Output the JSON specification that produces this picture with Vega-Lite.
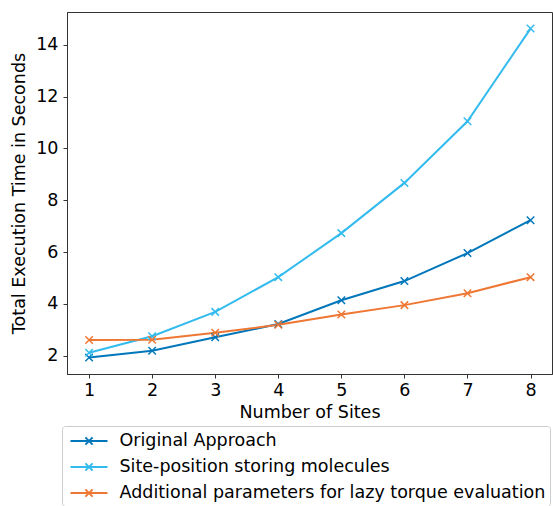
{
  "$schema": "https://vega.github.io/schema/vega-lite/v6.json",
  "autosize": {"type": "none"},
  "width": 485,
  "height": 362,
  "padding": {"left": 67, "top": 12, "right": 1, "bottom": 132},
  "config": {
    "font": "DejaVu Sans",
    "view": {"stroke": "#333333", "strokeWidth": 1},
    "axis": {
      "grid": false,
      "domainColor": "#333333",
      "tickColor": "#333333",
      "tickSize": 4,
      "labelFontSize": 17.5,
      "labelColor": "#000000",
      "titleFontSize": 17.5,
      "titleFontWeight": "normal",
      "titleColor": "#000000",
      "labelPadding": 4
    }
  },
  "data": {
    "values": [
      {"sites": 1, "time": 1.93, "method": "Original Approach"},
      {"sites": 2, "time": 2.19, "method": "Original Approach"},
      {"sites": 3, "time": 2.71, "method": "Original Approach"},
      {"sites": 4, "time": 3.22, "method": "Original Approach"},
      {"sites": 5, "time": 4.14, "method": "Original Approach"},
      {"sites": 6, "time": 4.88, "method": "Original Approach"},
      {"sites": 7, "time": 5.96, "method": "Original Approach"},
      {"sites": 8, "time": 7.23, "method": "Original Approach"},
      {"sites": 1, "time": 2.11, "method": "Site-position storing molecules"},
      {"sites": 2, "time": 2.75, "method": "Site-position storing molecules"},
      {"sites": 3, "time": 3.69, "method": "Site-position storing molecules"},
      {"sites": 4, "time": 5.03, "method": "Site-position storing molecules"},
      {"sites": 5, "time": 6.73, "method": "Site-position storing molecules"},
      {"sites": 6, "time": 8.67, "method": "Site-position storing molecules"},
      {"sites": 7, "time": 11.05, "method": "Site-position storing molecules"},
      {"sites": 8, "time": 14.63, "method": "Site-position storing molecules"},
      {"sites": 1, "time": 2.6, "method": "Additional parameters for lazy torque evaluation"},
      {"sites": 2, "time": 2.61, "method": "Additional parameters for lazy torque evaluation"},
      {"sites": 3, "time": 2.88, "method": "Additional parameters for lazy torque evaluation"},
      {"sites": 4, "time": 3.19, "method": "Additional parameters for lazy torque evaluation"},
      {"sites": 5, "time": 3.59, "method": "Additional parameters for lazy torque evaluation"},
      {"sites": 6, "time": 3.95, "method": "Additional parameters for lazy torque evaluation"},
      {"sites": 7, "time": 4.41, "method": "Additional parameters for lazy torque evaluation"},
      {"sites": 8, "time": 5.03, "method": "Additional parameters for lazy torque evaluation"}
    ]
  },
  "encoding": {
    "x": {
      "field": "sites",
      "type": "quantitative",
      "title": "Number of Sites",
      "scale": {"domain": [0.65, 8.34], "nice": false, "zero": false},
      "axis": {"values": [1, 2, 3, 4, 5, 6, 7, 8], "labelPadding": 3, "titlePadding": 5}
    },
    "y": {
      "field": "time",
      "type": "quantitative",
      "title": "Total Execution Time in Seconds",
      "scale": {"domain": [1.29, 15.27], "nice": false, "zero": false},
      "axis": {"values": [2, 4, 6, 8, 10, 12, 14], "labelPadding": 5, "titlePadding": 7}
    },
    "color": {
      "field": "method",
      "type": "nominal",
      "title": null,
      "scale": {
        "domain": ["Original Approach", "Site-position storing molecules", "Additional parameters for lazy torque evaluation"],
        "range": ["#0077BB", "#33BBEE", "#EE7733"]
      },
      "legend": {
        "orient": "none",
        "legendX": -5,
        "legendY": 414,
        "symbolType": "M-1.85,0H1.85M-0.36,-0.36L0.36,0.36M-0.36,0.36L0.36,-0.36",
        "symbolSize": 400,
        "symbolStrokeWidth": 2,
        "symbolFillColor": "transparent",
        "symbolOffset": 12,
        "labelFontSize": 17.5,
        "labelColor": "#000000",
        "labelOffset": 19.5,
        "rowPadding": 6,
        "padding": 4,
        "fillColor": "#ffffff",
        "strokeColor": "#cccccc",
        "cornerRadius": 3,
        "labelLimit": 600
      }
    }
  },
  "layer": [
    {"mark": {"type": "line", "strokeWidth": 2}},
    {"mark": {"type": "point", "shape": "M-1,-1L1,1M-1,1L1,-1", "filled": false, "size": 56, "strokeWidth": 1.5, "opacity": 1}}
  ]
}
